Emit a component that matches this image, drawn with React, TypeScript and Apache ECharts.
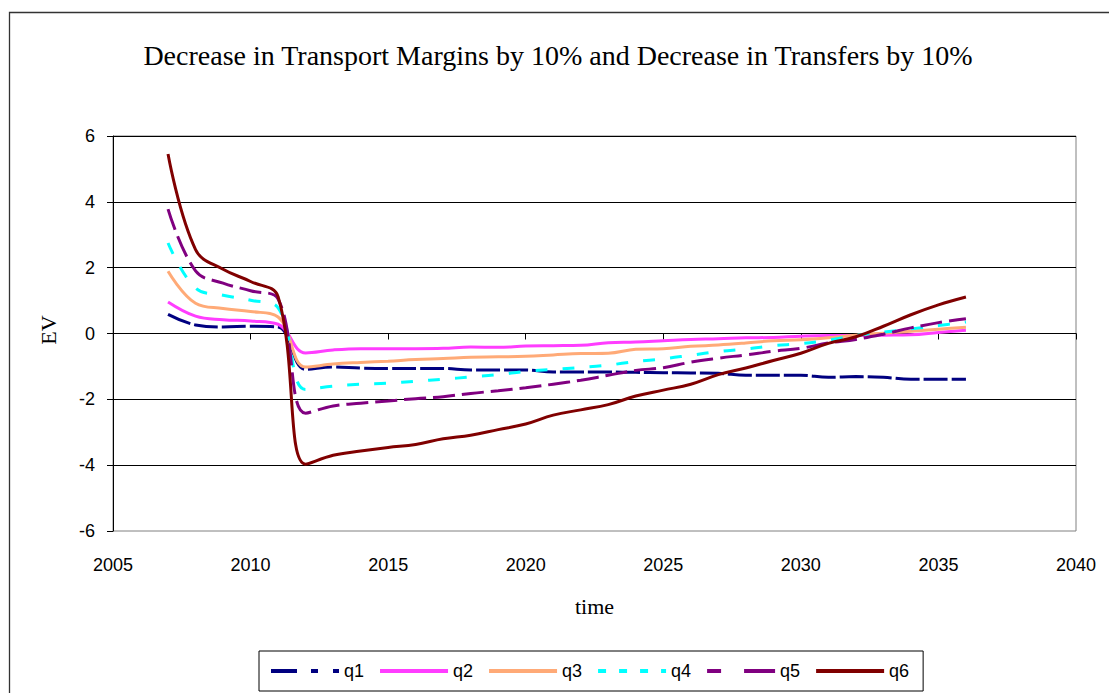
import React, { useEffect, useRef } from "react";
import * as echarts from "echarts";

const TITLE = "Decrease in Transport Margins by 10% and Decrease in Transfers by 10%";
const SERIES_NAMES = ["q1", "q2", "q3", "q4", "q5", "q6"];
const TIME = [
  2007, 2008, 2009, 2010, 2011, 2012, 2013, 2014, 2015, 2016,
  2017, 2018, 2019, 2020, 2021, 2022, 2023, 2024, 2025, 2026,
  2027, 2028, 2029, 2030, 2031, 2032, 2033, 2034, 2035, 2036,
];
const Q1 = [0.58, 0.26, 0.2, 0.22, 0.2, -1.09, -1.02, -1.05, -1.06, -1.06, -1.06, -1.11, -1.11, -1.11, -1.17, -1.17, -1.17, -1.18, -1.19, -1.2, -1.21, -1.27, -1.27, -1.27, -1.33, -1.31, -1.33, -1.39, -1.39, -1.39];
const Q2 = [0.96, 0.53, 0.42, 0.38, 0.28, -0.59, -0.5, -0.46, -0.46, -0.46, -0.45, -0.41, -0.42, -0.38, -0.37, -0.36, -0.28, -0.26, -0.22, -0.18, -0.16, -0.13, -0.12, -0.08, -0.06, -0.06, -0.05, -0.04, 0.03, 0.1];
const Q3 = [1.89, 0.92, 0.76, 0.67, 0.5, -1.02, -0.93, -0.88, -0.84, -0.79, -0.76, -0.72, -0.71, -0.69, -0.65, -0.61, -0.6, -0.48, -0.46, -0.39, -0.35, -0.29, -0.22, -0.19, -0.13, -0.05, 0.01, 0.07, 0.13, 0.19];
const Q4 = [2.75, 1.38, 1.16, 1.01, 0.78, -1.7, -1.6, -1.54, -1.51, -1.45, -1.39, -1.32, -1.25, -1.15, -1.09, -1.03, -0.96, -0.85, -0.77, -0.66, -0.55, -0.47, -0.37, -0.31, -0.2, -0.06, 0.04, 0.14, 0.24, 0.35];
const Q5 = [3.78, 1.9, 1.53, 1.3, 1.05, -2.42, -2.2, -2.12, -2.05, -1.98, -1.92, -1.82, -1.74, -1.65, -1.54, -1.42, -1.27, -1.12, -1.04, -0.87, -0.75, -0.65, -0.54, -0.45, -0.29, -0.18, -0.02, 0.17, 0.33, 0.45];
const Q6 = [5.45, 2.55, 1.95, 1.58, 1.12, -3.97, -3.7, -3.57, -3.46, -3.37, -3.2, -3.09, -2.92, -2.75, -2.48, -2.32, -2.16, -1.9, -1.72, -1.54, -1.25, -1.05, -0.82, -0.6, -0.3, -0.1, 0.22, 0.57, 0.87, 1.11];
const VALUES = [Q1, Q2, Q3, Q4, Q5, Q6];

const COLORS = ["#000080", "#FF3DFF", "#FFAA77", "#00FFFF", "#800080", "#800000"];
const LINE_DASH: (number[] | "solid")[] = [[24, 4], "solid", "solid", [12, 15], [22, 7], "solid"];
const LEGEND_DASH: (number[] | "solid")[] = [[26, 14, 7, 15, 6, 30], "solid", "solid", [8, 13], [14, 23, 31, 10], "solid"];

const SANS = "'Liberation Sans', Arial, sans-serif";
const SERIF = "'Liberation Serif', 'Times New Roman', serif";

export default function App() {
  const ref = useRef<HTMLDivElement>(null);
  useEffect(() => {
    if (!ref.current) return;
    const chart = echarts.init(ref.current, undefined, { renderer: "svg" });
    const option: any = {
      animation: false,
      backgroundColor: "#ffffff",
      grid: {
        left: 113,
        top: 136,
        width: 963,
        height: 395,
        show: true,
        borderColor: "#808080",
        borderWidth: 1,
        backgroundColor: "transparent",
      },
      xAxis: [
        {
          type: "value",
          min: 2005,
          max: 2040,
          interval: 5,
          position: "bottom",
          axisLine: { show: false, onZero: false },
          axisTick: { show: false },
          splitLine: { show: false },
          axisLabel: {
            fontSize: 18,
            color: "#000",
            fontFamily: SANS,
            margin: 25,
            formatter: (v: number) => String(v),
          },
        },
        {
          type: "value",
          min: 2005,
          max: 2040,
          interval: 5,
          position: "top",
          axisLine: { show: true, onZero: true, lineStyle: { color: "#000", width: 1 } },
          axisTick: { show: true, inside: true, length: 6, lineStyle: { color: "#000", width: 1 } },
          axisLabel: { show: false },
          splitLine: { show: false },
        },
      ],
      yAxis: {
        type: "value",
        min: -6,
        max: 6,
        interval: 2,
        axisLine: { show: true, onZero: false, lineStyle: { color: "#000", width: 1 } },
        axisTick: { show: true, length: 6, lineStyle: { color: "#000", width: 1 } },
        axisLabel: { fontSize: 18, color: "#000", fontFamily: SANS, margin: 18 },
        splitLine: { show: true, showMinLine: false, lineStyle: { color: "#000", width: 1 } },
      },
      legend: {
        left: 259,
        top: 651,
        orient: "horizontal",
        padding: [11, 14, 11, 10],
        itemWidth: 68,
        itemHeight: 18,
        itemGap: 14,
        borderColor: "#000",
        borderWidth: 1,
        textStyle: { fontSize: 18, fontFamily: SANS, color: "#000", lineHeight: 18 },
        data: SERIES_NAMES.map((n, i) => ({
          name: n,
          itemStyle: { opacity: 0 },
          lineStyle: { type: LEGEND_DASH[i], width: 4, color: COLORS[i] },
        })),
      },
      graphic: [
        {
          type: "rect",
          silent: true,
          z: -10,
          shape: { x: 9.5, y: 12.5, width: 1200, height: 800 },
          style: { fill: "none", stroke: "#333", lineWidth: 1.3 },
        },
        {
          type: "text",
          x: 558,
          y: 55,
          style: {
            text: TITLE,
            fill: "#000",
            font: `28px ${SERIF}`,
            align: "center",
            verticalAlign: "middle",
          },
        },
        {
          type: "text",
          x: 48,
          y: 330,
          rotation: Math.PI / 2,
          style: {
            text: "EV",
            fill: "#000",
            font: `22px ${SERIF}`,
            align: "center",
            verticalAlign: "middle",
          },
        },
        {
          type: "text",
          x: 594.5,
          y: 606,
          style: {
            text: "time",
            fill: "#000",
            font: `22px ${SERIF}`,
            align: "center",
            verticalAlign: "middle",
          },
        },
      ],
      series: SERIES_NAMES.map((n, i) => ({
        name: n,
        type: "line",
        xAxisIndex: 0,
        symbol: "none",
        smooth: 0.4,
        data: TIME.map((t, j) => [t, VALUES[i][j]]),
        lineStyle: { color: COLORS[i], width: 3, type: LINE_DASH[i] },
        itemStyle: { color: COLORS[i] },
      })),
    };
    chart.setOption(option);
    return () => chart.dispose();
  }, []);
  return (
    <div
      ref={ref}
      style={{ position: "absolute", left: 0, top: 0, width: 1109, height: 693 }}
    />
  );
}
